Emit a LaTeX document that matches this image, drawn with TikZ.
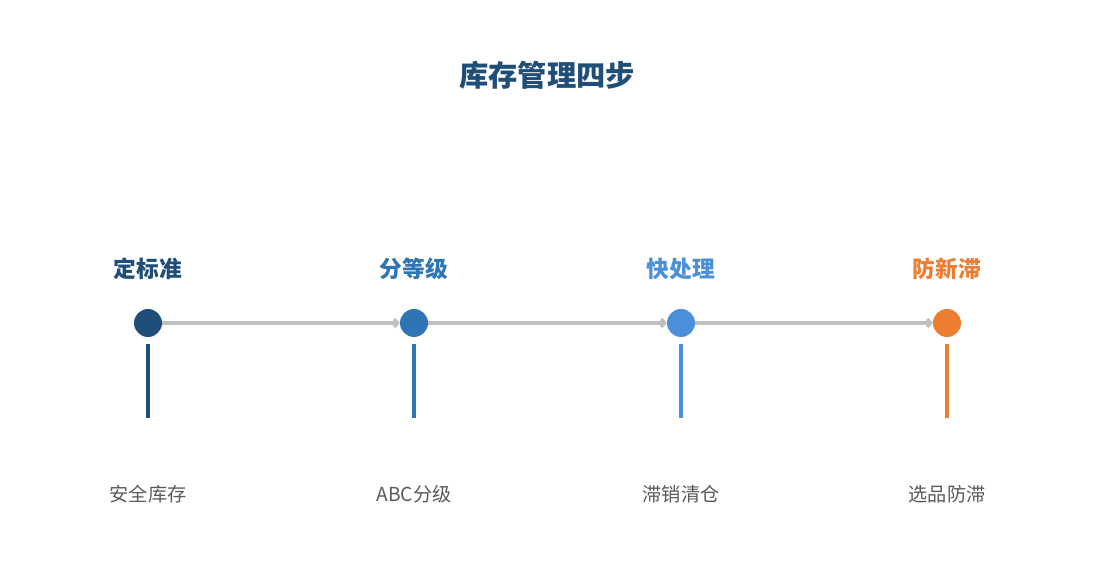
\documentclass[tikz,border=0pt]{standalone}
\usepackage{fontspec}
\setmainfont{Noto Sans CJK SC}
\usetikzlibrary{arrows.meta}
\definecolor{cA}{HTML}{1F4E79}
\definecolor{cB}{HTML}{2E75B6}
\definecolor{cC}{HTML}{4A90D9}
\definecolor{cD}{HTML}{ED7D31}
\definecolor{link}{HTML}{BFBFBF}
\definecolor{sub}{HTML}{595959}
\begin{document}
\begin{tikzpicture}[x=1pt,y=1pt,
  dot/.style={circle,fill=#1,minimum size=28pt,inner sep=0pt},
  phase/.style={font=\fontsize{22.7}{26}\selectfont\bfseries,text=#1},
  stem/.style={draw=#1,line width=4pt},
  desc/.style={font=\fontsize{19.2}{22}\selectfont,text=sub},
  flow/.style={draw=link,line width=3.2pt,-{Straight Barb[length=3.5pt,width=8pt]}}]
\useasboundingbox (0,0) rectangle (1095,585);
\node[font=\fontsize{29.3}{34}\selectfont\bfseries,text=cA] (title) at (547,510) {库存管理四步};
\foreach \i/\x/\c/\t/\d in {1/148/cA/定标准/安全库存,2/414/cB/分等级/ABC分级,3/681/cC/快处理/滞销清仓,4/947/cD/防新滞/选品防滞}{
  \node[dot=\c] (n\i) at (\x,262) {};
  \node[phase=\c] (p\i) at (\x,316) {\t};
  \coordinate (s\i) at (\x,241);
  \coordinate (e\i) at (\x,167);
  \draw[stem=\c] (s\i) -- (e\i);
  \node[desc] (d\i) at (\x,91) {\d};
}
\draw[flow] (n1) -- (n2);
\draw[flow] (n2) -- (n3);
\draw[flow] (n3) -- (n4);
\end{tikzpicture}
\end{document}
